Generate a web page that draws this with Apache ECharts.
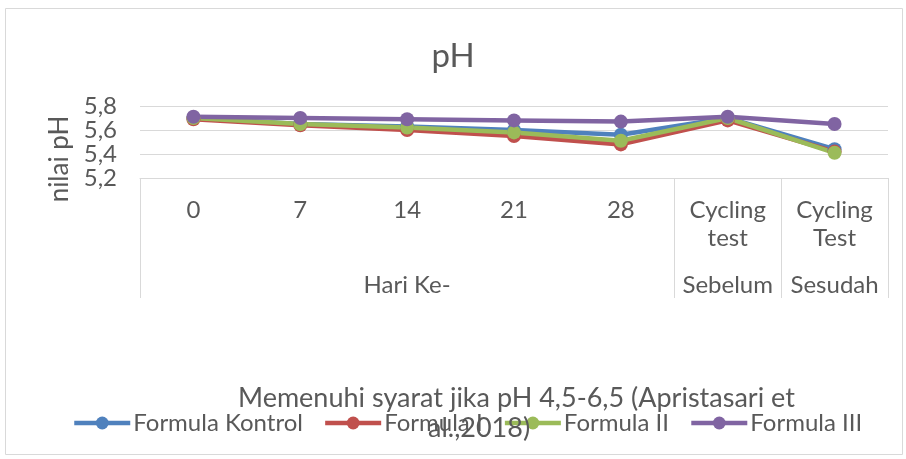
<!DOCTYPE html>
<html>
<head>
<meta charset="utf-8">
<script src="https://cdn.jsdelivr.net/npm/echarts@6/dist/echarts.min.js"></script>
<style>
	body { margin: 0; background: #fff; }
</style>
</head>
<body>
	<div id="main" style="width: 906px; height: 459px;"></div>
	<script type="text/javascript">
		// data
		var categories = [ '0', '7', '14', '21', '28', 'Cycling\ntest', 'Cycling\nTest' ];
		var groups = [ '', '', 'Hari Ke-', '', '', 'Sebelum', 'Sesudah' ];
		var groupStarts = [ 0, 5, 6 ]; // category index where each group begins
		var yTicks = [ 5.2, 5.4, 5.6, 5.8 ];

		var seriesNames = [ 'Formula Kontrol', 'Formula I', 'Formula II', 'Formula III' ];
		var kontrol = [ 5.70, 5.65, 5.63, 5.60, 5.56, 5.70, 5.44 ];
		var formula1 = [ 5.69, 5.64, 5.60, 5.55, 5.48, 5.68, 5.42 ];
		var formula2 = [ 5.70, 5.65, 5.62, 5.58, 5.51, 5.70, 5.41 ];
		var formula3 = [ 5.71, 5.70, 5.69, 5.68, 5.67, 5.71, 5.65 ];

		var colors = [ '#4f81bd', '#c0504d', '#9bbb59', '#8064a2' ];
		var txt = '#595959';
		var lineGray = '#d9d9d9';
		var font = 'Lato';

		var myChart = echarts.init(document.getElementById('main'));

		var values = [ kontrol, formula1, formula2, formula3 ];
		var series = [];
		for (var i = 0; i < values.length; i++) {
			series.push({
				name : seriesNames[i],
				type : 'line',
				xAxisIndex : 0,
				data : values[i],
				symbol : 'circle',
				symbolSize : 14,
				lineStyle : { width : 4.5, color : colors[i] },
				itemStyle : { color : colors[i] },
				emphasis : { disabled : true }
			});
		}

		var noteStyle = { fontFamily : font, fontSize : 27, color : txt, lineHeight : 30 };

		var option = {
			animation : false,
			color : colors,
			textStyle : { fontFamily : font, color : txt },
			title : [ {
				text : 'pH',
				left : 'center',
				top : 35,
				textStyle : { fontFamily : font, fontSize : 33, fontWeight : 'normal', color : txt }
			}, {
				// second line of the wrapped note sits further right, as in the original
				text : '{a|Memenuhi syarat jika pH 4,5-6,5 (Apristasari et}\n{b|al.,2018)}',
				left : 233,
				top : 378,
				textStyle : {
					fontFamily : font, fontSize : 27, fontWeight : 'normal', color : txt, lineHeight : 30,
					rich : {
						a : noteStyle,
						b : echarts.util.extend({ padding : [ 0, 0, 0, 190 ] }, noteStyle)
					}
				}
			} ],
			legend : {
				data : seriesNames,
				left : 67,
				top : 406,
				itemWidth : 56,
				itemHeight : 16,
				itemGap : 20,
				lineStyle : { width : 4.5 },
				textStyle : { fontFamily : font, fontSize : 24, color : txt, padding : [ 0, 0, 0, -2 ] }
			},
			grid : { left : 140, right : 18, top : 106, bottom : 281 },
			xAxis : [ {
				type : 'category',
				data : categories,
				position : 'bottom',
				axisLine : { show : false },
				axisTick : { show : false },
				axisLabel : {
					interval : 0,
					margin : 18,
					fontFamily : font,
					fontSize : 24,
					lineHeight : 28,
					color : txt
				}
			}, {
				type : 'category',
				data : groups,
				position : 'bottom',
				axisLine : { show : true, lineStyle : { color : lineGray, width : 1 } },
				axisTick : {
					show : true,
					length : 120,
					interval : function (index) {
						return groupStarts.indexOf(index) >= 0;
					},
					lineStyle : { color : lineGray, width : 1 }
				},
				axisLabel : {
					interval : 0,
					margin : 93,
					fontFamily : font,
					fontSize : 24,
					lineHeight : 28,
					color : txt
				}
			} ],
			yAxis : {
				type : 'value',
				min : yTicks[0],
				max : yTicks[yTicks.length - 1],
				interval : 0.2,
				name : 'nilai pH',
				nameLocation : 'middle',
				nameGap : 67,
				nameTextStyle : { fontFamily : font, fontSize : 26, color : txt, padding : [ 0, 34, 0, 0 ] },
				axisLine : { show : false },
				axisTick : { show : false },
				splitLine : { lineStyle : { color : lineGray, width : 1 } },
				axisLabel : {
					margin : 23,
					fontFamily : font,
					fontSize : 24,
					color : txt,
					formatter : function (v) {
						return v.toFixed(1).replace('.', ',');
					}
				}
			},
			graphic : [ {
				type : 'rect',
				shape : { x : 5.5, y : 8.5, width : 897, height : 446 },
				style : { fill : null, stroke : lineGray, lineWidth : 1 },
				silent : true,
				z : -1
			} ],
			series : series
		};

		myChart.setOption(option);
	</script>
</body>
</html>
